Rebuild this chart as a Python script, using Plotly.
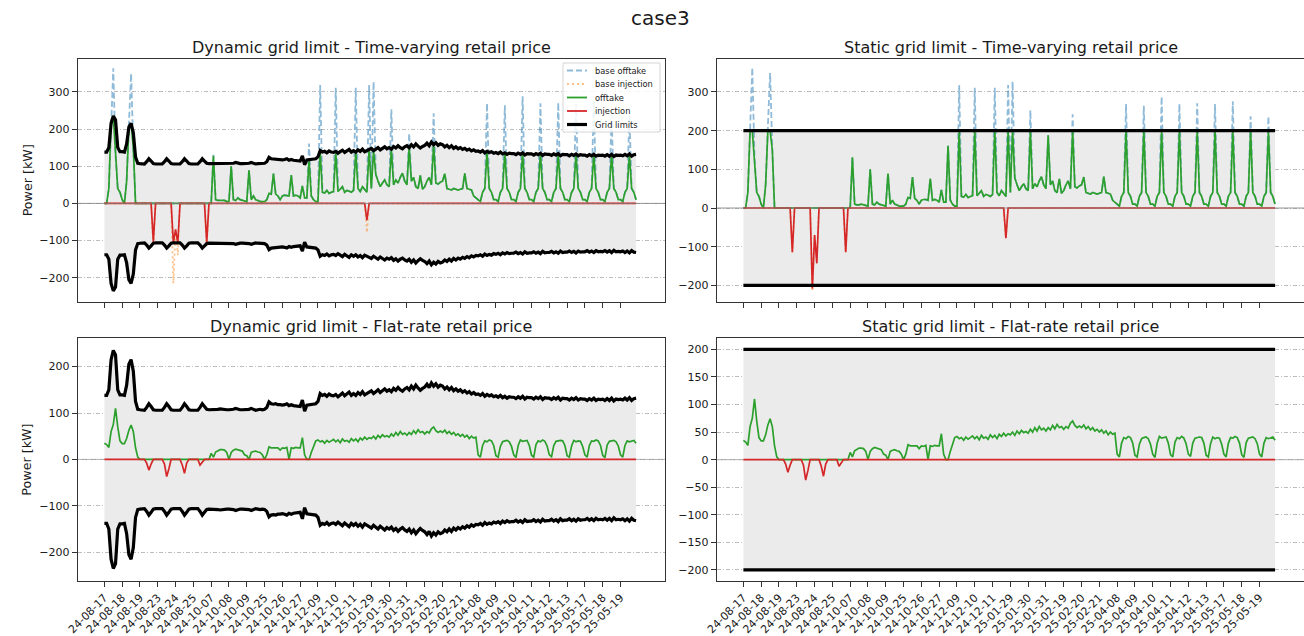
import numpy as np
import plotly.graph_objects as go

W, H = 1304, 636
SPD = 8  # samples per day (3-hour resolution)

day_labels = ["24-08-17", "24-08-18", "24-08-19", "24-08-23", "24-08-24", "24-08-25",
              "24-10-07", "24-10-08", "24-10-09", "24-10-25", "24-10-26", "24-10-27",
              "24-12-09", "24-12-10", "24-12-11", "25-01-29", "25-01-30", "25-01-31",
              "25-02-19", "25-02-20", "25-02-21", "25-04-08", "25-04-09", "25-04-10",
              "25-04-11", "25-04-12", "25-04-13", "25-05-17", "25-05-18", "25-05-19"]

# dynamic grid limit (upper; lower is its negative)
grid_dyn = [
    138, 138, 150, 215, 235, 225, 150, 139,
    139, 138, 160, 205, 215, 190, 125, 108,
    107, 106, 106, 112, 120, 114, 107, 106,
    106, 106, 106, 112, 120, 114, 107, 106,
    106, 106, 106, 112, 120, 114, 107, 106,
    106, 106, 106, 112, 120, 114, 108, 107,
    107, 107, 108, 108, 109, 108, 107, 107,
    107, 107, 108, 110, 108, 107, 107, 107,
    107, 108, 110, 108, 106, 107, 108, 107,
    108, 112, 124, 120, 119, 120, 118, 118,
    117, 118, 120, 116, 118, 116, 115, 115,
    114, 128, 104, 117, 118, 118, 119, 120,
    125, 142, 138, 140, 136, 141, 138, 137,
    140, 135, 139, 143, 137, 140, 145, 138,
    142, 138, 144, 140, 146, 139, 143, 145,
    148, 142, 146, 150, 144, 148, 152, 147,
    150, 146, 153, 149, 155, 150, 147, 152,
    155, 150, 158, 152, 160, 154, 149, 153,
    156, 162, 155, 165, 158, 163, 156, 160,
    158, 152, 156, 150, 155, 148, 152, 147,
    150, 145, 148, 143, 146, 141, 144, 140,
    141, 138, 142, 136, 140, 137, 139, 135,
    137, 134, 138, 133, 136, 132, 135, 134,
    134, 131, 135, 132, 136, 130, 134, 133,
    133, 130, 134, 131, 135, 129, 133, 132,
    132, 129, 133, 130, 134, 128, 132, 131,
    131, 128, 132, 129, 133, 128, 131, 130,
    130, 127, 131, 128, 132, 127, 130, 129,
    130, 127, 131, 127, 132, 126, 130, 129,
    130, 128, 132, 128, 133, 127, 131, 132,
]

grid_static = 200

# baseline offtake / injection, time-varying price
base_offtake_tv = [
    0, 0, 40, 220, 363, 130, 40, 30,
    10, 0, 60, 210, 349, 150, 0, 0,
    0, 0, 0, 0, 0, 0, 0, 0,
    0, 0, 0, 0, 0, 0, 0, 0,
    0, 0, 0, 0, 0, 0, 0, 0,
    0, 0, 0, 0, 0, 0, 0, 0,
    0, 131, 10, 8, 8, 10, 8, 5,
    5, 100, 10, 8, 15, 10, 8, 5,
    5, 89, 10, 20, 10, 8, 5, 5,
    5, 10, 27, 25, 80, 25, 20, 10,
    20, 22, 22, 20, 76, 20, 22, 20,
    15, 47, 15, 15, 161, 20, 10, 5,
    5, 318, 30, 28, 35, 27, 30, 32,
    311, 32, 38, 45, 30, 35, 33, 30,
    35, 311, 40, 32, 45, 38, 30, 318,
    40, 327, 78, 60, 45, 55, 63, 50,
    45, 253, 50, 63, 55, 70, 81, 60,
    50, 188, 60, 70, 45, 40, 75, 38,
    45, 60, 70, 50, 242, 55, 52, 57,
    60, 80, 40, 38, 36, 40, 38, 36,
    38, 40, 81, 40, 38, 36, 20, 15,
    10, 5, 30, 40, 269, 40, 30, 10,
    10, 5, 30, 40, 264, 40, 30, 10,
    10, 5, 30, 40, 288, 40, 30, 10,
    10, 5, 30, 40, 269, 40, 30, 10,
    10, 5, 30, 40, 271, 40, 30, 10,
    10, 5, 30, 40, 269, 40, 30, 10,
    10, 5, 30, 40, 276, 40, 30, 10,
    10, 5, 30, 40, 237, 40, 30, 10,
    10, 5, 30, 40, 237, 40, 30, 10,
]

base_injection_tv = [
    0, 0, 0, 0, 0, 0, 0, 0,
    0, 0, 0, 0, 0, 0, 0, 0,
    0, 0, 0, 0, 0, 0, -114, 0,
    0, 0, 0, 0, 0, 0, 0, -215,
    -70, -139, 0, 0, 0, 0, 0, 0,
    0, 0, 0, 0, 0, 0, -114, 0,
] + [0] * (8 * 8) + [
    0, 0, 0, 0, 0, 0, -78, 0,
] + [0] * (8 * 15)

# dynamic grid limit, time-varying price
offtake_dyn_tv = [
    0, 0, 40, 215, 235, 130, 40, 30,
    10, 0, 60, 205, 215, 150, 0, 0,
    0, 0, 0, 0, 0, 0, 0, 0,
    0, 0, 0, 0, 0, 0, 0, 0,
    0, 0, 0, 0, 0, 0, 0, 0,
    0, 0, 0, 0, 0, 0, 0, 0,
    0, 128, 10, 8, 8, 10, 8, 5,
    5, 100, 10, 8, 15, 10, 8, 5,
    5, 89, 10, 20, 10, 8, 5, 5,
    5, 10, 27, 25, 80, 25, 20, 10,
    20, 22, 22, 20, 76, 20, 22, 20,
    15, 47, 15, 15, 116, 20, 10, 5,
    5, 140, 30, 28, 35, 27, 30, 32,
    138, 32, 38, 45, 30, 35, 33, 30,
    35, 140, 40, 32, 45, 38, 30, 145,
    40, 142, 78, 60, 45, 55, 63, 50,
    45, 146, 50, 63, 55, 70, 81, 60,
    50, 150, 60, 70, 45, 40, 75, 38,
    45, 60, 70, 50, 158, 55, 52, 57,
    60, 80, 40, 38, 36, 40, 38, 36,
    38, 40, 81, 40, 38, 36, 20, 15,
    10, 5, 30, 40, 140, 40, 30, 10,
    10, 5, 30, 40, 136, 40, 30, 10,
    10, 5, 30, 40, 136, 40, 30, 10,
    10, 5, 30, 40, 135, 40, 30, 10,
    10, 5, 30, 40, 134, 40, 30, 10,
    10, 5, 30, 40, 133, 40, 30, 10,
    10, 5, 30, 40, 132, 40, 30, 10,
    10, 5, 30, 40, 132, 40, 30, 10,
    10, 5, 30, 40, 133, 40, 30, 10,
]
injection_dyn_tv = [
    0, 0, 0, 0, 0, 0, 0, 0,
    0, 0, 0, 0, 0, 0, 0, 0,
    0, 0, 0, 0, 0, 0, -103, 0,
    0, 0, 0, 0, 0, 0, 0, -106,
    -70, -106, 0, 0, 0, 0, 0, 0,
    0, 0, 0, 0, 0, 0, -105, 0,
] + [0] * (8 * 8) + [
    0, 0, 0, 0, 0, 0, -45, 0,
] + [0] * (8 * 15)

# static grid limit, time-varying price
offtake_sta_tv = [
    0, 0, 40, 200, 200, 130, 40, 30,
    10, 0, 60, 200, 200, 150, 0, 0,
    0, 0, 0, 0, 0, 0, 0, 0,
    0, 0, 0, 0, 0, 0, 0, 0,
    0, 0, 0, 0, 0, 0, 0, 0,
    0, 0, 0, 0, 0, 0, 0, 0,
    0, 131, 10, 8, 8, 10, 8, 5,
    5, 100, 10, 8, 15, 10, 8, 5,
    5, 89, 10, 20, 10, 8, 5, 5,
    5, 10, 27, 25, 80, 25, 20, 10,
    20, 22, 22, 20, 76, 20, 22, 20,
    15, 47, 15, 15, 161, 20, 10, 5,
    5, 200, 30, 28, 35, 27, 30, 32,
    200, 32, 38, 45, 30, 35, 33, 30,
    35, 200, 40, 32, 45, 38, 30, 200,
    40, 200, 78, 60, 45, 55, 63, 50,
    45, 200, 50, 63, 55, 70, 81, 60,
    50, 188, 60, 70, 45, 40, 75, 38,
    45, 60, 70, 50, 200, 55, 52, 57,
    60, 80, 40, 38, 36, 40, 38, 36,
    38, 40, 81, 40, 38, 36, 20, 15,
    10, 5, 30, 40, 200, 40, 30, 10,
    10, 5, 30, 40, 200, 40, 30, 10,
    10, 5, 30, 40, 200, 40, 30, 10,
    10, 5, 30, 40, 200, 40, 30, 10,
    10, 5, 30, 40, 200, 40, 30, 10,
    10, 5, 30, 40, 200, 40, 30, 10,
    10, 5, 30, 40, 200, 40, 30, 10,
    10, 5, 30, 40, 200, 40, 30, 10,
    10, 5, 30, 40, 200, 40, 30, 10,
]
injection_sta_tv = [
    0, 0, 0, 0, 0, 0, 0, 0,
    0, 0, 0, 0, 0, 0, 0, 0,
    0, 0, 0, 0, 0, 0, -114, 0,
    0, 0, 0, 0, 0, 0, 0, -208,
    -70, -143, 0, 0, 0, 0, 0, 0,
    0, 0, 0, 0, 0, 0, -114, 0,
] + [0] * (8 * 8) + [
    0, 0, 0, 0, 0, 0, -78, 0,
] + [0] * (8 * 15)

# flat-rate price (same in both grid-limit cases)
offtake_flat = [
    35, 32, 26, 60, 75, 110, 70, 40,
    34, 34, 45, 63, 74, 60, 25, 5,
    0, 0, 0, 0, 0, 0, 0, 0,
    0, 0, 0, 0, 0, 0, 0, 0,
    0, 0, 0, 0, 0, 0, 0, 0,
    0, 0, 0, 0, 0, 0, 0, 0,
    13, 5, 16, 18, 21, 21, 20, 15,
    0, 15, 20, 22, 21, 20, 18, 10,
    8, 0, 15, 17, 18, 16, 15, 10,
    0, 10, 27, 25, 25, 24, 25, 20,
    25, 24, 26, 0, 25, 24, 26, 25,
    25, 47, 10, 0, 0, 15, 30, 40,
    42, 38, 40, 35, 41, 37, 40, 43,
    38, 42, 36, 44, 39, 41, 37, 45,
    40, 44, 38, 46, 42, 48, 43, 47,
    45, 50, 44, 52, 47, 53, 49, 51,
    48, 55, 50, 58, 52, 60, 54, 57,
    52, 58, 54, 62, 56, 64, 58, 60,
    55, 60, 57, 66, 70, 62, 58, 61,
    58, 63, 56, 60, 54, 58, 52, 55,
    50, 54, 48, 52, 45, 50, 46, 48,
    10, 5, 30, 40, 38, 42, 40, 30,
    8, 5, 28, 38, 40, 41, 38, 28,
    10, 4, 30, 42, 39, 40, 41, 30,
    9, 5, 32, 40, 38, 42, 39, 29,
    10, 6, 30, 39, 40, 41, 40, 30,
    8, 5, 29, 41, 38, 40, 39, 28,
    10, 5, 30, 40, 39, 42, 40, 30,
    9, 4, 31, 39, 40, 41, 38, 29,
    10, 5, 30, 40, 38, 40, 41, 35,
]
injection_flat = [
    0, 0, 0, 0, 0, 0, 0, 0,
    0, 0, 0, 0, 0, 0, 0, 0,
    0, 0, 0, -8, -23, -10, 0, 0,
    0, 0, 0, -10, -37, -20, 0, 0,
    0, 0, 0, -12, -30, -8, 0, 0,
    0, 0, 0, -12, -5, 0, 0, 0,
] + [0] * (8 * 24)

legend_labels = ["base offtake", "base injection", "offtake", "injection", "Grid limits"]

t = np.arange(len(grid_dyn)) / SPD
gd = np.array(grid_dyn, dtype=float)
gs = np.full(len(t), float(grid_static))

BLUE = "rgba(31,119,180,0.5)"
ORANGE = "rgba(255,127,14,0.5)"
GREEN = "#2ca02c"
RED = "#d62728"
FILL = "rgb(235,235,235)"
FONT = "DejaVu Sans"
TXT = "#1a1a1a"
BLUE_DASH = "6px,3px"
ORANGE_DOT = "2px,3px"


def FX(p):
    return p / W


def FY(p):
    return 1 - p / H


fig = go.Figure()

panels = [
    ("x", "y", gd, base_offtake_tv, base_injection_tv, offtake_dyn_tv, injection_dyn_tv),
    ("x2", "y2", gs, base_offtake_tv, base_injection_tv, offtake_sta_tv, injection_sta_tv),
    ("x3", "y3", gd, None, None, offtake_flat, injection_flat),
    ("x4", "y4", gs, None, None, offtake_flat, injection_flat),
]

for xa, ya, up, boff, binj, off, inj in panels:
    fig.add_trace(go.Scatter(x=t, y=-up, xaxis=xa, yaxis=ya, mode="lines",
                             line=dict(width=0), hoverinfo="skip", showlegend=False))
    fig.add_trace(go.Scatter(x=t, y=up, xaxis=xa, yaxis=ya, mode="lines",
                             line=dict(width=0), fill="tonexty", fillcolor=FILL,
                             hoverinfo="skip", showlegend=False))
    if boff is not None:
        fig.add_trace(go.Scatter(x=t, y=boff, xaxis=xa, yaxis=ya, mode="lines",
                                 name=legend_labels[0], showlegend=False,
                                 line=dict(color=BLUE, width=1.8, dash=BLUE_DASH)))
        fig.add_trace(go.Scatter(x=t, y=binj, xaxis=xa, yaxis=ya, mode="lines",
                                 name=legend_labels[1], showlegend=False,
                                 line=dict(color=ORANGE, width=1.8, dash=ORANGE_DOT)))
    fig.add_trace(go.Scatter(x=t, y=off, xaxis=xa, yaxis=ya, mode="lines",
                             name=legend_labels[2], showlegend=False,
                             line=dict(color=GREEN, width=1.7)))
    fig.add_trace(go.Scatter(x=t, y=inj, xaxis=xa, yaxis=ya, mode="lines",
                             name=legend_labels[3], showlegend=False,
                             line=dict(color=RED, width=1.7)))
    gx = np.concatenate([t, [np.nan], t])
    gy = np.concatenate([up, [np.nan], -up])
    fig.add_trace(go.Scatter(x=gx, y=gy, xaxis=xa, yaxis=ya, mode="lines",
                             name=legend_labels[4], showlegend=False,
                             line=dict(color="black", width=3.2)))

dom_x_left = [FX(77.7), FX(665)]
dom_x_right = [FX(716.7), 1.0]
dom_y_top = [FY(302), FY(58.7)]
dom_y_bot = [FY(581), FY(338.3)]

tickvals = list(range(len(day_labels)))


def xaxis(dom, anchor, labels):
    return dict(domain=dom, anchor=anchor, range=[-1.5, 31.5], automargin=False,
                tickmode="array", tickvals=tickvals, ticktext=day_labels,
                showticklabels=labels, tickangle=-45,
                ticks="outside", ticklen=5, tickwidth=1, tickcolor="#333",
                showline=True, linecolor="#333", linewidth=1, mirror=True,
                showgrid=False, zeroline=False,
                tickfont=dict(family=FONT, size=11, color=TXT))


def yaxis(dom, anchor, rng, tv):
    return dict(domain=dom, anchor=anchor, range=rng, tickmode="array", tickvals=tv,
                automargin=False,
                ticks="outside", ticklen=5, tickwidth=1, tickcolor="#333",
                showline=True, linecolor="#333", linewidth=1, mirror=True,
                showgrid=True, gridcolor="#bdbdbd", gridwidth=0.8,
                griddash="4px,2px,1px,2px",
                zeroline=False,
                tickfont=dict(family=FONT, size=11, color=TXT))


fig.update_layout(
    template="none",
    width=W, height=H, margin=dict(l=0, r=0, t=0, b=0, pad=0),
    plot_bgcolor="white", paper_bgcolor="white",
    font=dict(family=FONT, size=11, color=TXT),
    showlegend=False,
    xaxis=xaxis(dom_x_left, "y", False),
    yaxis=yaxis(dom_y_top, "x", [-265, 389], [-200, -100, 0, 100, 200, 300]),
    xaxis2=xaxis(dom_x_right, "y2", False),
    yaxis2=yaxis(dom_y_top, "x2", [-243, 386], [-200, -100, 0, 100, 200, 300]),
    xaxis3=xaxis(dom_x_left, "y3", True),
    yaxis3=yaxis(dom_y_bot, "x3", [-262, 261], [-200, -100, 0, 100, 200]),
    xaxis4=xaxis(dom_x_right, "y4", True),
    yaxis4=yaxis(dom_y_bot, "x4", [-220, 220], [-200, -150, -100, -50, 0, 50, 100, 150, 200]),
)

# zero lines (axhline)
for xa, ya, layer in [("x", "y", "above"), ("x2", "y2", "above"),
                      ("x3", "y3", "below"), ("x4", "y4", "below")]:
    fig.add_shape(type="line", xref=f"{xa} domain", yref=ya, x0=0, x1=1, y0=0, y1=0,
                  line=dict(color="rgba(128,128,128,0.8)", width=1), layer=layer)

# legend box (top-left panel, upper right)
fig.add_shape(type="rect", xref="paper", yref="paper",
              x0=FX(563), x1=FX(660), y0=FY(132), y1=FY(63),
              line=dict(color="#d5d5d5", width=1), fillcolor="rgba(255,255,255,0.85)",
              layer="above")
leg_styles = [
    dict(color=BLUE, width=1.8, dash=BLUE_DASH),
    dict(color=ORANGE, width=1.8, dash=ORANGE_DOT),
    dict(color=GREEN, width=1.8),
    dict(color=RED, width=1.8),
    dict(color="black", width=3.2),
]
for k, (lab, st) in enumerate(zip(legend_labels, leg_styles)):
    yy = 70.5 + 13.5 * k
    fig.add_shape(type="line", xref="paper", yref="paper",
                  x0=FX(567), x1=FX(587), y0=FY(yy), y1=FY(yy), line=st, layer="above")
    fig.add_annotation(text=lab, x=FX(593), y=FY(yy), xref="paper", yref="paper",
                       showarrow=False, xanchor="left", yanchor="middle",
                       font=dict(family=FONT, size=8.3, color=TXT))

titles = [
    ("Dynamic grid limit - Time-varying retail price", (77.7 + 665) / 2, 47),
    ("Static grid limit - Time-varying retail price", (716.7 + 1304.6) / 2, 47),
    ("Dynamic grid limit - Flat-rate retail price", (77.7 + 665) / 2, 326),
    ("Static grid limit - Flat-rate retail price", (716.7 + 1304.6) / 2, 326),
]
for txt, cx, cy in titles:
    fig.add_annotation(text=txt, x=FX(cx), y=FY(cy), xref="paper", yref="paper",
                       showarrow=False, xanchor="center", yanchor="middle",
                       font=dict(family=FONT, size=16, color=TXT))

fig.add_annotation(text="case3", x=FX(660), y=FY(18), xref="paper", yref="paper",
                   showarrow=False, xanchor="center", yanchor="middle",
                   font=dict(family=FONT, size=20, color=TXT))

for cy in [(58.7 + 302) / 2, (338.3 + 581) / 2]:
    fig.add_annotation(text="Power [kW]", x=FX(27), y=FY(cy), xref="paper", yref="paper",
                       showarrow=False, xanchor="center", yanchor="middle", textangle=-90,
                       font=dict(family=FONT, size=12.7, color=TXT))

# remove the default page margin so the figure sits at the window's top-left corner
fig.write_html("out.html", config={"displayModeBar": False},
               post_script="document.body.style.margin='0px';")
